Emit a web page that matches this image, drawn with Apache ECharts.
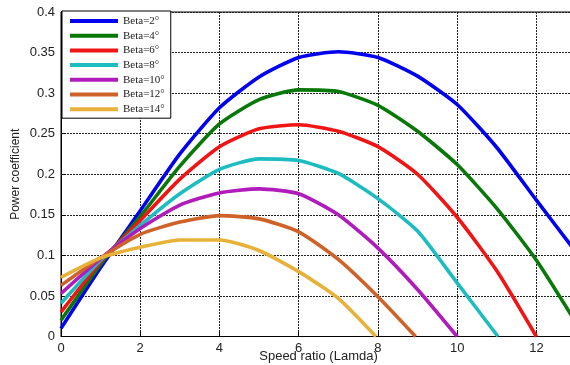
<!DOCTYPE html>
<html>
<head>
<meta charset="utf-8">
<script src="https://cdn.jsdelivr.net/npm/echarts@6/dist/echarts.min.js"></script>
<style>
    html, body { margin: 0; padding: 0; background: #fff; }
    #chart { width: 570px; height: 365px; }
</style>
</head>
<body>
<div id="chart"></div>
<script>
// speed ratio samples (x)
const lambda = [0, 1, 2, 3, 4, 5, 6, 7, 8, 9, 10, 11, 12, 13]

// power coefficient per pitch angle
const cpBeta2 = [0.010, 0.085, 0.155, 0.225, 0.282, 0.320, 0.344, 0.351, 0.344, 0.321, 0.286, 0.233, 0.168, 0.104]
const cpBeta4 = [0.020, 0.089, 0.148, 0.210, 0.262, 0.292, 0.304, 0.302, 0.285, 0.253, 0.212, 0.158, 0.094, 0.017]
const cpBeta6 = [0.030, 0.092, 0.143, 0.194, 0.234, 0.256, 0.261, 0.253, 0.234, 0.200, 0.147, 0.081]
const cpBeta8 = [0.041, 0.094, 0.137, 0.176, 0.206, 0.219, 0.217, 0.201, 0.170, 0.130, 0.066]
const cpBeta10 = [0.053, 0.096, 0.133, 0.162, 0.177, 0.182, 0.176, 0.150, 0.109, 0.058]
const cpBeta12 = [0.063, 0.097, 0.126, 0.141, 0.149, 0.145, 0.129, 0.095, 0.049]
const cpBeta14 = [0.073, 0.097, 0.110, 0.119, 0.119, 0.106, 0.080, 0.047]

// lambda where each curve reaches zero (null = stays above zero in range)
const zeroAt = [null, null, 12.0, 11.03, 10.0, 8.95, 7.95]

const betaNames = ['Beta=2°', 'Beta=4°', 'Beta=6°', 'Beta=8°', 'Beta=10°', 'Beta=12°', 'Beta=14°']
const betaColors = ['#0000ee', '#087808', '#f01414', '#1cbcc0', '#b01cbc', '#cf6228', '#e8b23a']
const cpSeries = [cpBeta2, cpBeta4, cpBeta6, cpBeta8, cpBeta10, cpBeta12, cpBeta14]

const xTicks = { min: 0, max: 13, interval: 2 }
const yTicks = { min: 0, max: 0.4, interval: 0.05 }

function buildData(values, zero) {
    let data = values.map((v, i) => [lambda[i], v])
    if (zero !== null) data.push([zero, 0])
    return data
}

const axisFont = { fontFamily: 'Liberation Sans, Arial, sans-serif', fontSize: 13, color: '#222' }
const gridLine = { show: true, lineStyle: { color: '#222', type: [2, 1], width: 1 } }

let Chart = echarts.init(document.getElementById('chart'))

let option = {
    animation: false,
    backgroundColor: '#fff',
    grid: {
        left: 61, top: 12, bottom: 28.5, right: -6,
        outerBoundsMode: 'none',
        show: true, borderColor: '#000', borderWidth: 1
    },
    legend: {
        orient: 'vertical',
        left: 62, top: 11,
        backgroundColor: '#fff',
        borderColor: '#000',
        borderWidth: 1,
        borderRadius: 0,
        padding: [4, 6, 3, 8],
        icon: 'rect',
        itemWidth: 48,
        itemHeight: 4,
        itemGap: 2.7,
        textStyle: {
            fontFamily: 'Liberation Serif, Times New Roman, serif',
            fontSize: 11, lineHeight: 12, color: '#222'
        },
        data: betaNames
    },
    xAxis: {
        type: 'value',
        min: xTicks.min, max: xTicks.max, interval: xTicks.interval,
        name: 'Speed ratio (Lamda)',
        nameLocation: 'middle',
        nameGap: 13,
        nameMoveOverlap: false,
        nameTextStyle: axisFont,
        axisLine: { show: true, lineStyle: { color: '#000', width: 1 } },
        axisTick: { show: true, inside: true, length: 5, lineStyle: { color: '#000' } },
        axisLabel: Object.assign({ margin: 5, showMaxLabel: false }, axisFont),
        splitLine: gridLine
    },
    yAxis: {
        type: 'value',
        min: yTicks.min, max: yTicks.max, interval: yTicks.interval,
        name: 'Power coefficient',
        nameLocation: 'middle',
        nameGap: 39,
        nameMoveOverlap: false,
        nameTextStyle: Object.assign({}, axisFont, { fontSize: 12 }),
        axisLine: { show: true, lineStyle: { color: '#000', width: 1 } },
        axisTick: { show: true, inside: true, length: 5, lineStyle: { color: '#000' } },
        axisLabel: Object.assign({ margin: 6 }, axisFont),
        splitLine: gridLine
    },
    series: betaNames.map((name, i) => ({
        name: name,
        type: 'line',
        data: buildData(cpSeries[i], zeroAt[i]),
        smooth: 0.2,
        symbol: 'none',
        clip: true,
        color: betaColors[i],
        lineStyle: { width: 3.6, color: betaColors[i], join: 'round' }
    }))
}

Chart.setOption(option)
</script>
</body>
</html>
